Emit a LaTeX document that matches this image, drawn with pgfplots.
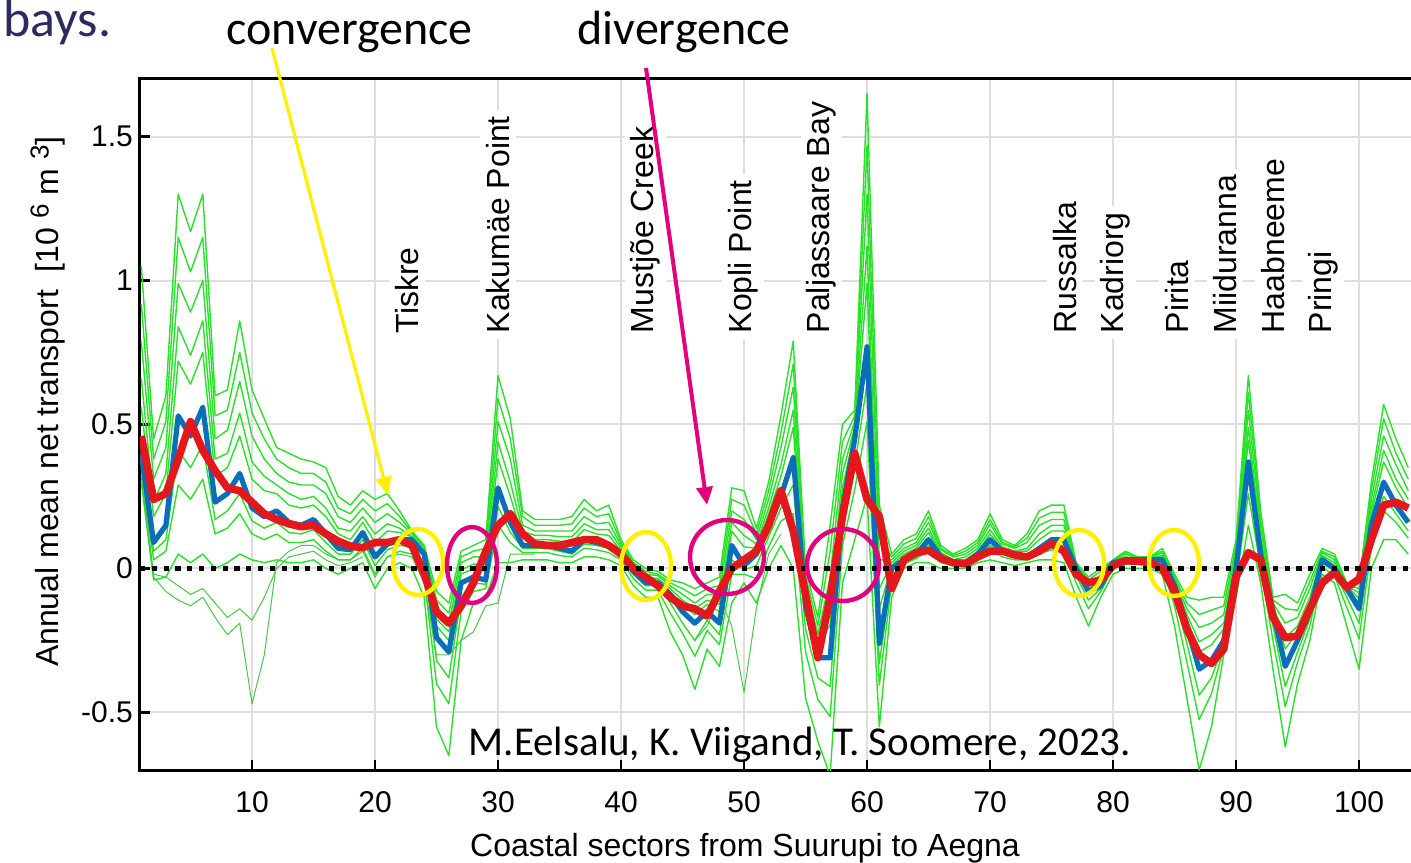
\documentclass[border=0pt]{standalone}
\usepackage{pgfplots}
\pgfplotsset{compat=1.18}
\usepackage{pgfplotstable}
\usepackage{fontspec}
\setmainfont{Liberation Sans}
\newfontfamily\calibri{Carlito}
\usetikzlibrary{arrows.meta}

\definecolor{gr}{RGB}{40,225,40}
\definecolor{grd}{RGB}{70,200,70}
\definecolor{bl}{RGB}{10,110,185}
\definecolor{rd}{RGB}{228,24,28}
\definecolor{yl}{RGB}{255,240,0}
\definecolor{mg}{RGB}{228,0,124}
\definecolor{navy}{RGB}{44,42,94}
\definecolor{gridc}{RGB}{222,222,222}

\pgfplotstableread{
x R B U G8 G2 G4 G3 G7 G5 L
1 0.46 0.40 1.05 0.92 0.79 0.66 0.56 0.38 0.35 0.30
2 0.24 0.09 0.45 0.38 0.31 0.23 0.18 0.06 0.03 -0.04
3 0.26 0.15 0.60 0.51 0.42 0.33 0.26 0.10 0.06 -0.03
4 0.38 0.53 1.30 1.15 0.99 0.84 0.72 0.41 0.29 0.05
5 0.51 0.46 1.17 1.03 0.89 0.74 0.64 0.35 0.24 0.02
6 0.41 0.56 1.30 1.15 1.00 0.86 0.75 0.43 0.31 0.05
7 0.34 0.23 0.60 0.53 0.45 0.38 0.32 0.17 0.12 0.00
8 0.28 0.26 0.62 0.55 0.48 0.40 0.35 0.20 0.14 0.02
9 0.27 0.33 0.86 0.75 0.65 0.54 0.46 0.26 0.19 0.05
10 0.23 0.21 0.62 0.54 0.46 0.37 0.31 0.165 0.12 0.03
11 0.19 0.18 0.52 0.45 0.38 0.32 0.27 0.14 0.10 0.02
12 0.17 0.20 0.42 0.38 0.33 0.29 0.26 0.16 0.12 0.03
13 0.155 0.16 0.40 0.35 0.30 0.26 0.22 0.125 0.09 0.02
14 0.145 0.15 0.38 0.33 0.29 0.24 0.21 0.12 0.09 0.02
15 0.15 0.17 0.37 0.33 0.29 0.25 0.22 0.135 0.10 0.03
16 0.12 0.12 0.35 0.30 0.26 0.21 0.18 0.09 0.06 0.00
17 0.095 0.07 0.25 0.21 0.18 0.14 0.12 0.05 0.03 -0.02
18 0.078 0.065 0.22 0.19 0.16 0.13 0.10 0.05 0.03 0.00
19 0.072 0.125 0.27 0.24 0.21 0.18 0.16 0.10 0.07 0.02
20 0.09 0.04 0.24 0.20 0.16 0.12 0.09 0.01 -0.02 -0.07
21 0.09 0.085 0.26 0.225 0.19 0.155 0.13 0.065 0.04 0.00
22 0.10 0.10 0.20 0.18 0.16 0.14 0.125 0.08 0.06 0.02
23 0.08 0.10 0.13 0.125 0.12 0.11 0.11 0.075 0.05 0.00
24 -0.02 0.05 0.08 0.075 0.07 0.06 0.06 0.01 -0.03 -0.10
25 -0.15 -0.24 -0.08 -0.11 -0.14 -0.175 -0.20 -0.32 -0.40 -0.55
26 -0.19 -0.29 -0.12 -0.155 -0.19 -0.22 -0.25 -0.38 -0.47 -0.65
27 -0.13 -0.05 0.06 0.04 0.02 -0.005 -0.02 -0.10 -0.15 -0.25
28 -0.05 -0.03 0.08 0.06 0.04 0.015 0.00 -0.05 -0.08 -0.12
29 0.06 -0.04 0.10 0.07 0.04 0.015 -0.01 -0.055 -0.07 -0.10
30 0.15 0.28 0.67 0.59 0.51 0.44 0.38 0.215 0.15 0.02
31 0.19 0.16 0.52 0.45 0.38 0.30 0.25 0.125 0.09 0.02
32 0.12 0.08 0.20 0.18 0.15 0.13 0.11 0.07 0.055 0.03
33 0.085 0.08 0.17 0.15 0.13 0.115 0.10 0.07 0.055 0.03
34 0.08 0.08 0.17 0.15 0.13 0.115 0.10 0.07 0.055 0.03
35 0.08 0.07 0.17 0.15 0.13 0.11 0.095 0.06 0.045 0.02
36 0.09 0.06 0.18 0.155 0.13 0.11 0.09 0.05 0.04 0.02
37 0.10 0.10 0.24 0.21 0.18 0.155 0.135 0.085 0.07 0.04
38 0.10 0.09 0.20 0.18 0.155 0.135 0.12 0.08 0.065 0.04
39 0.08 0.08 0.22 0.19 0.16 0.135 0.115 0.07 0.055 0.03
40 0.05 0.05 0.10 0.09 0.08 0.07 0.06 0.04 0.03 0.01
41 0.00 -0.01 0.03 0.02 0.015 0.005 0.00 -0.02 -0.035 -0.06
42 -0.03 -0.05 0.00 -0.01 -0.02 -0.03 -0.04 -0.06 -0.075 -0.10
43 -0.06 -0.05 -0.01 -0.02 -0.025 -0.035 -0.04 -0.06 -0.075 -0.10
44 -0.10 -0.09 -0.04 -0.05 -0.06 -0.07 -0.08 -0.12 -0.155 -0.22
45 -0.13 -0.15 -0.05 -0.07 -0.09 -0.11 -0.125 -0.19 -0.225 -0.30
46 -0.14 -0.19 -0.07 -0.095 -0.12 -0.14 -0.16 -0.25 -0.305 -0.42
47 -0.165 -0.15 -0.05 -0.07 -0.09 -0.11 -0.125 -0.18 -0.215 -0.28
48 -0.08 -0.19 -0.03 -0.06 -0.09 -0.125 -0.15 -0.23 -0.265 -0.34
49 0.00 0.08 0.28 0.24 0.20 0.16 0.13 0.03 -0.02 -0.12
50 0.03 0.01 0.27 0.22 0.17 0.115 0.075 -0.005 -0.02 -0.05
51 0.06 0.05 0.14 0.12 0.10 0.085 0.07 0.01 -0.035 -0.12
52 0.15 0.15 0.30 0.27 0.24 0.21 0.19 0.11 0.075 0.00
53 0.27 0.25 0.53 0.47 0.42 0.36 0.32 0.21 0.165 0.08
54 0.13 0.385 0.79 0.71 0.63 0.55 0.49 0.29 0.19 0.00
55 -0.09 -0.13 0.00 -0.025 -0.05 -0.08 -0.10 -0.21 -0.29 -0.45
56 -0.31 -0.31 -0.17 -0.20 -0.23 -0.255 -0.275 -0.38 -0.455 -0.60
57 -0.10 -0.31 0.15 0.06 -0.03 -0.125 -0.195 -0.41 -0.515 -0.72
58 0.18 0.21 0.50 0.44 0.38 0.33 0.28 0.145 0.08 -0.05
59 0.40 0.45 0.55 0.53 0.51 0.49 0.475 0.36 0.275 0.10
60 0.24 0.77 1.65 1.47 1.30 1.12 0.99 0.64 0.51 0.25
61 0.18 -0.26 0.22 0.12 0.03 -0.07 -0.14 -0.33 -0.405 -0.55
62 -0.07 0.00 0.05 0.04 0.03 0.02 0.01 -0.025 -0.05 -0.10
63 0.03 0.03 0.10 0.085 0.07 0.06 0.05 0.02 0.015 0.00
64 0.055 0.05 0.12 0.105 0.09 0.08 0.07 0.04 0.035 0.02
65 0.063 0.10 0.20 0.18 0.16 0.14 0.125 0.08 0.06 0.02
66 0.035 0.04 0.08 0.07 0.065 0.055 0.05 0.03 0.02 0.00
67 0.02 0.02 0.05 0.045 0.04 0.03 0.03 0.015 0.01 0.00
68 0.016 0.02 0.07 0.06 0.05 0.04 0.03 0.015 0.01 0.00
69 0.04 0.05 0.10 0.09 0.08 0.07 0.06 0.04 0.035 0.02
70 0.06 0.10 0.19 0.17 0.155 0.135 0.12 0.08 0.065 0.03
71 0.06 0.06 0.10 0.09 0.085 0.075 0.07 0.05 0.04 0.02
72 0.047 0.05 0.08 0.075 0.07 0.06 0.06 0.04 0.03 0.01
73 0.04 0.04 0.12 0.105 0.09 0.07 0.06 0.035 0.03 0.02
74 0.06 0.07 0.20 0.175 0.15 0.12 0.10 0.06 0.05 0.03
75 0.086 0.10 0.22 0.195 0.17 0.15 0.13 0.08 0.065 0.03
76 0.06 0.10 0.22 0.195 0.17 0.15 0.13 0.08 0.06 0.02
77 -0.02 0.00 0.02 0.015 0.01 0.01 0.005 -0.025 -0.05 -0.10
78 -0.05 -0.08 -0.03 -0.04 -0.05 -0.06 -0.07 -0.11 -0.14 -0.20
79 -0.04 -0.06 0.00 -0.01 -0.025 -0.035 -0.045 -0.07 -0.08 -0.10
80 0.01 0.02 0.03 0.03 0.025 0.025 0.02 0.01 0.00 -0.02
81 0.027 0.03 0.06 0.055 0.05 0.04 0.04 0.02 0.015 0.00
82 0.025 0.03 0.04 0.04 0.035 0.035 0.03 0.02 0.015 0.00
83 0.02 0.03 0.04 0.04 0.035 0.035 0.03 0.02 0.015 0.00
84 0.00 0.03 0.07 0.06 0.055 0.045 0.04 0.02 0.005 -0.02
85 -0.08 -0.06 -0.02 -0.03 -0.035 -0.045 -0.05 -0.095 -0.13 -0.20
86 -0.21 -0.20 -0.10 -0.12 -0.14 -0.16 -0.175 -0.26 -0.325 -0.45
87 -0.30 -0.35 -0.11 -0.16 -0.205 -0.255 -0.29 -0.44 -0.525 -0.70
88 -0.33 -0.32 -0.10 -0.145 -0.19 -0.23 -0.265 -0.38 -0.435 -0.55
89 -0.28 -0.25 -0.10 -0.13 -0.16 -0.19 -0.21 -0.26 -0.275 -0.30
90 -0.03 0.00 0.10 0.08 0.06 0.04 0.025 -0.025 -0.05 -0.10
91 0.055 0.37 0.67 0.61 0.55 0.49 0.445 0.315 0.26 0.15
92 0.03 0.05 0.20 0.17 0.14 0.11 0.09 0.025 0.00 -0.05
93 -0.17 -0.15 -0.10 -0.11 -0.12 -0.13 -0.14 -0.20 -0.25 -0.35
94 -0.24 -0.34 -0.09 -0.14 -0.19 -0.24 -0.28 -0.41 -0.48 -0.62
95 -0.235 -0.25 -0.12 -0.145 -0.17 -0.20 -0.22 -0.29 -0.325 -0.40
96 -0.14 -0.15 -0.02 -0.045 -0.07 -0.10 -0.12 -0.175 -0.20 -0.25
97 -0.05 0.03 0.07 0.06 0.055 0.045 0.04 0.02 0.005 -0.02
98 -0.014 0.00 0.05 0.04 0.03 0.02 0.01 -0.01 -0.025 -0.05
99 -0.066 -0.07 -0.05 -0.055 -0.06 -0.06 -0.065 -0.10 -0.135 -0.20
100 -0.037 -0.14 -0.05 -0.07 -0.085 -0.105 -0.12 -0.19 -0.245 -0.35
101 0.10 0.15 0.30 0.27 0.24 0.21 0.19 0.11 0.075 0.00
102 0.22 0.30 0.57 0.52 0.46 0.41 0.37 0.25 0.20 0.10
103 0.23 0.22 0.45 0.40 0.36 0.31 0.28 0.19 0.16 0.10
104 0.21 0.16 0.35 0.31 0.27 0.24 0.21 0.13 0.105 0.05
}\data

\begin{document}
\begin{tikzpicture}
\useasboundingbox (0,0) rectangle (705.5pt,431pt);
\begin{axis}[
  at={(70pt,46pt)}, anchor=south west,
  scale only axis, width=637.2pt, height=345.5pt,
  xmin=0.894, xmax=104.5, ymin=-0.7, ymax=1.7,
  xtick={10,20,30,40,50,60,70,80,90,100},
  xticklabels={10,20,30,40,50,60,70,80,90,100},
  ytick={-0.5,0,0.5,1,1.5},
  yticklabels={-0.5,0,0.5,1,1.5},
  tick align=inside, xtick pos=left, ytick pos=left,
  major tick length=5pt,
  every tick/.style={black, line width=1.2pt},
  axis line style={line width=1.5pt},
  grid=major, major grid style={gridc, line width=1pt},
  tick label style={font=\fontsize{15}{18}\selectfont},
  xticklabel style={anchor=base, yshift=-21pt},
  every axis y label/.style={at={(rel axis cs:-0.0722,0.533)}, rotate=90, anchor=center, font=\fontsize{16}{19}\selectfont},
  every axis x label/.style={at={(rel axis cs:0.4747,-0.1245)}, anchor=base, font=\fontsize{16}{19}\selectfont},
  ylabel={Annual mean net transport\ \ [10 \raisebox{0.6ex}{\fontsize{13}{13}\selectfont 6} m \raisebox{0.6ex}{\fontsize{13}{13}\selectfont 3}]},
  xlabel={Coastal sectors from Suurupi to Aegna},
  every axis plot/.append style={line join=round},
]
\addplot[gr, line width=0.7pt] table[x=x,y=U]{\data};
\addplot[gr, line width=0.7pt] table[x=x,y=G8]{\data};
\addplot[gr, line width=0.7pt] table[x=x,y=G2]{\data};
\addplot[gr, line width=0.7pt] table[x=x,y=G4]{\data};
\addplot[gr, line width=0.7pt] table[x=x,y=G3]{\data};
\addplot[gr, line width=0.7pt] table[x=x,y=G7]{\data};
\addplot[gr, line width=0.7pt] table[x=x,y=G5]{\data};
\addplot[gr, line width=0.7pt] table[x=x,y=L]{\data};
\addplot[grd, line width=0.5pt] coordinates {(1,0.35)(2,-0.03)(3,-0.08)(4,-0.11)(5,-0.13)(6,-0.10)(7,-0.17)(8,-0.23)(9,-0.19)(10,-0.47)(11,-0.30)(12,0.02)(13,0.06)(14,0.08)(15,0.08)(16,0.05)(17,0.03)(18,0.03)(19,0.06)(20,-0.03)(21,0.04)(22,0.05)(23,0.04)(24,-0.05)(25,-0.30)(26,-0.30)(27,-0.25)(28,-0.22)(29,-0.13)(30,-0.12)(31,0.05)(32,0.05)(33,0.05)};
\addplot[grd, line width=0.5pt] coordinates {(1,0.32)(2,-0.02)(3,-0.03)(4,-0.06)(5,-0.09)(6,-0.07)(7,-0.12)(8,-0.17)(9,-0.14)(10,-0.18)(11,-0.10)(12,0.00)(13,0.04)(14,0.05)(15,0.06)(16,0.03)(17,0.01)(18,0.02)(19,0.04)};
\addplot[grd, line width=0.5pt] coordinates {(46,-0.25)(47,-0.20)(48,-0.10)(49,-0.20)(50,-0.43)(51,-0.14)(52,0.05)(53,0.12)};
\addplot[bl, line width=2.6pt] table[x=x,y=B]{\data};
\addplot[rd, line width=3.8pt] table[x=x,y=R]{\data};
\addplot[black, line width=2.5pt, dash pattern=on 2.6pt off 3.3pt] coordinates {(0.894,0)(104.5,0)};

\begin{scope}[every node/.style={rotate=90, anchor=west, fill=white, inner sep=3pt, font=\fontsize{16}{19}\selectfont}]
\node at (axis cs:22.6,0.795) {Tiskre};
\node at (axis cs:30.0,0.795) {Kakumäe Point};
\node at (axis cs:42.0,0.795) {Mustjõe Creek};
\node at (axis cs:49.9,0.795) {Kopli Point};
\node at (axis cs:56.3,0.795) {Paljassaare Bay};
\node at (axis cs:76.1,0.795) {Russalka};
\node at (axis cs:80.2,0.795) {Kadriorg};
\node at (axis cs:85.2,0.795) {Pirita};
\node at (axis cs:89.1,0.795) {Miiduranna};
\node at (axis cs:93.0,0.795) {Haabneeme};
\node at (axis cs:97.1,0.795) {Pringi};
\end{scope}
\end{axis}

\begin{scope}[x=0.5pt, y=-0.5pt, yshift=431pt]
\draw[yl, line width=2.2pt] (418,562) ellipse [x radius=25, y radius=33];
\draw[yl, line width=2.2pt] (646,566) ellipse [x radius=25, y radius=34];
\draw[yl, line width=2.2pt] (1079,563) ellipse [x radius=25, y radius=33];
\draw[yl, line width=2.2pt] (1174,563) ellipse [x radius=25, y radius=33];
\draw[mg, line width=2.2pt] (472,565) ellipse [x radius=25, y radius=38];
\draw[mg, line width=2.2pt] (727,557) ellipse [x radius=37, y radius=37];
\draw[mg, line width=2.2pt] (843,565) ellipse [x radius=36, y radius=36];
\draw[yl, line width=1.6pt, -{Triangle[length=9pt,width=8pt]}] (272,48) -- (388,495);
\draw[mg, line width=2pt, -{Triangle[length=9pt,width=8pt]}] (646,68) -- (707,505);
\node[anchor=base, font=\calibri\fontsize{24}{28}\selectfont] at (349.5,45) {convergence};
\node[anchor=base, font=\calibri\fontsize{24}{28}\selectfont] at (684,45) {divergence};
\node[anchor=base, font=\calibri\fontsize{20.5}{24}\selectfont] at (800,755) {M.Eelsalu, K. Viigand, T. Soomere, 2023.};
\node[anchor=base west, inner sep=0pt, text=navy, font=\calibri\fontsize{26}{30}\selectfont] at (3,37) {bays.};
\end{scope}
\end{tikzpicture}
\end{document}
